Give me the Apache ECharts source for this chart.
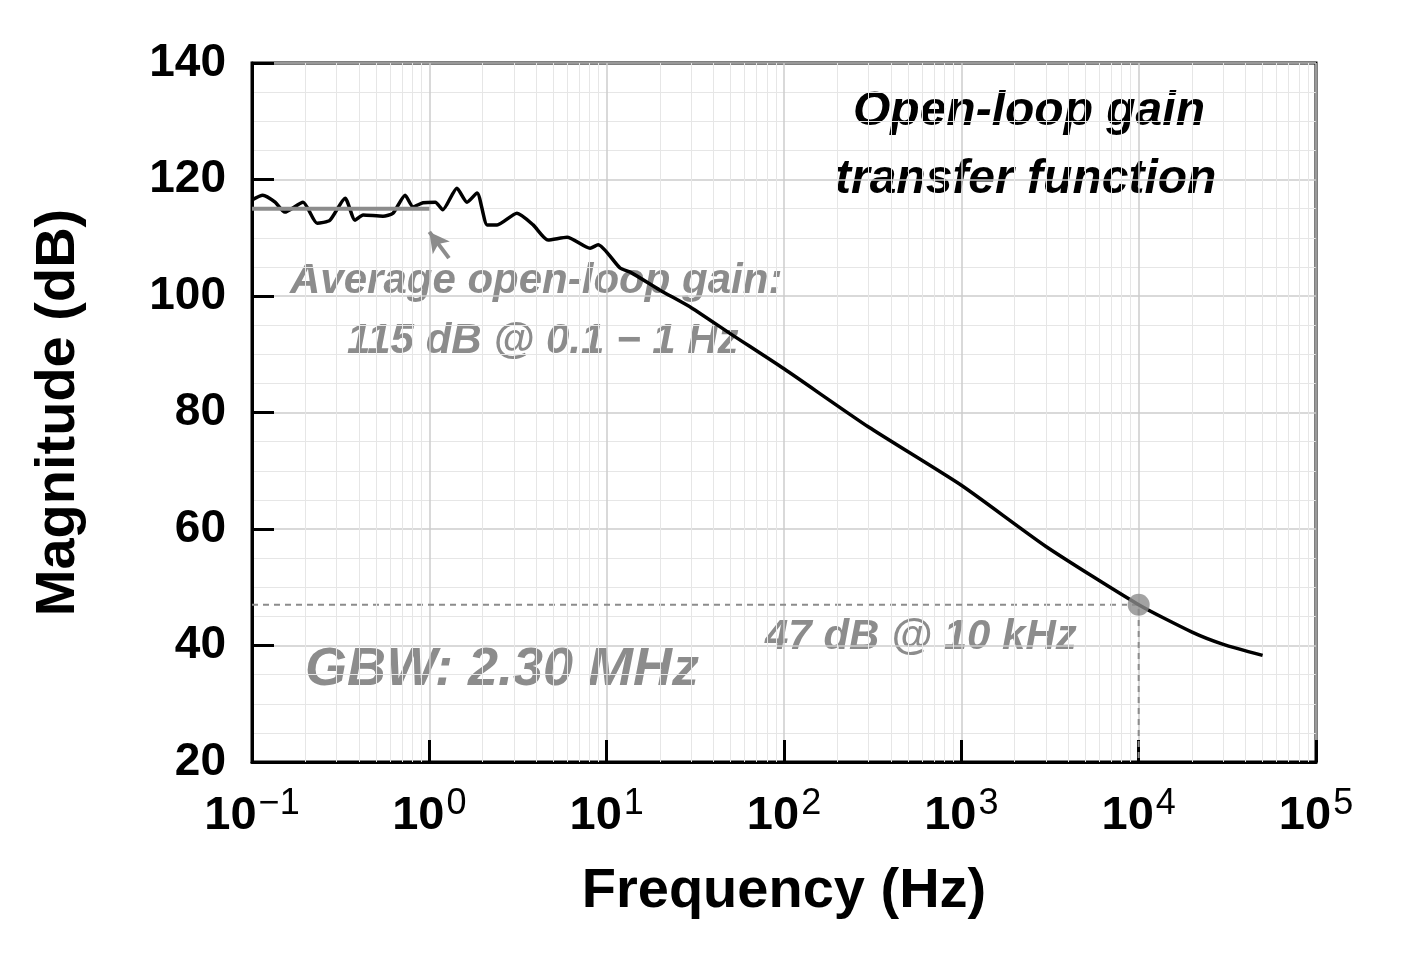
<!DOCTYPE html>
<html>
<head>
<meta charset="utf-8">
<script src="https://cdn.jsdelivr.net/npm/echarts@6/dist/echarts.min.js"></script>
<style>html,body{margin:0;background:#fff}#chart{width:1421px;height:966px}</style>
</head>
<body>
<div id="chart"></div>
<script>
// frequency (Hz) and magnitude (dB)
var freq = [0.1, 0.115, 0.135, 0.153, 0.194, 0.233, 0.275, 0.335, 0.381, 0.423, 0.548, 0.624, 0.73, 0.809, 0.921,
  1.08, 1.19, 1.43, 1.63, 1.86, 2.12, 2.41, 3.12, 3.85, 4.67, 5.98, 8.06, 8.95, 11.9, 13.6,
  20, 30, 50, 100, 300, 1000, 3000, 10000, 20000, 30000, 50000];
var mag = [116.5, 117.3, 116.1, 114.4, 116.1, 112.5, 113.0, 116.8, 113.0, 113.9, 113.7, 114.2, 117.3, 115.3, 116.0,
  116.1, 114.8, 118.5, 116.1, 117.7, 112.2, 112.2, 114.2, 112.2, 109.6, 110.1, 108.2, 108.8, 104.8, 104.1,
  101, 98, 93.5, 87.5, 77.5, 67.5, 57, 47, 42.3, 40.2, 38.3];
var avgGain = 115, avgRange = [0.1, 1];
var gbwPoint = [10000, 47];
var yTicks = [20, 140];

var chart = echarts.init(document.getElementById('chart'));

// minor vertical grid lines at 2..9 x 10^n
var minorX = [];
for (var e = -1; e < 5; e++) for (var k = 2; k <= 9; k++) minorX.push({xAxis: k * Math.pow(10, e)});

var supMap = {'-1': '−1', '0': '0', '1': '1', '2': '2', '3': '3', '4': '4', '5': '5'};

chart.setOption({
  animation: false,
  grid: {left: 252, right: 105, top: 63, bottom: 204, show: true, borderColor: '#000', borderWidth: 3},
  xAxis: {
    type: 'log', logBase: 10, min: 0.1, max: 100000,
    axisLine: {lineStyle: {color: '#000', width: 3}},
    axisTick: {inside: true, length: 22, lineStyle: {color: '#000', width: 3}},
    splitLine: {show: true, lineStyle: {color: '#ccc', width: 1.5}},
    axisLabel: {
      margin: 24,
      formatter: function (v) {
        var n = Math.round(Math.log10(v));
        return '{b|10}{s|' + supMap[n] + '}';
      },
      rich: {
        b: {fontFamily: 'Liberation Sans', fontWeight: 'bold', fontSize: 47, color: '#000'},
        s: {fontFamily: 'Liberation Sans', fontSize: 36, color: '#000', verticalAlign: 'top', padding: [0, 0, 24, 2]}
      }
    },
    name: 'Frequency (Hz)', nameLocation: 'middle', nameGap: 102,
    nameTextStyle: {fontFamily: 'Liberation Sans', fontWeight: 'bold', fontSize: 56, color: '#000'}
  },
  yAxis: {
    type: 'value', min: yTicks[0], max: yTicks[1], interval: 20,
    axisLine: {lineStyle: {color: '#000', width: 3}},
    axisTick: {inside: true, length: 22, lineStyle: {color: '#000', width: 3}},
    splitLine: {show: true, lineStyle: {color: '#ccc', width: 1.5}},
    minorTick: {show: false, splitNumber: 4},
    minorSplitLine: {show: true, lineStyle: {color: '#e6e6e6', width: 1}},
    axisLabel: {margin: 26, fontFamily: 'Liberation Sans', fontWeight: 'bold', fontSize: 46, color: '#000'},
    name: 'Magnitude (dB)', nameLocation: 'middle', nameGap: 165,
    nameTextStyle: {fontFamily: 'Liberation Sans', fontWeight: 'bold', fontSize: 56, color: '#000'}
  },
  series: [
    {
      type: 'line', data: freq.map(function (f, i) { return [f, mag[i]]; }),
      showSymbol: false, smooth: 0.2, lineStyle: {color: '#000', width: 3.5}, z: 5,
      markLine: {
        silent: true, symbol: 'none', label: {show: false},
        lineStyle: {color: '#e6e6e6', width: 1, type: 'solid'},
        data: minorX
      }
    },
    {
      type: 'line', data: [[avgRange[0], avgGain], [avgRange[1], avgGain]],
      showSymbol: false, lineStyle: {color: '#8c8c8c', width: 4}, z: 6
    },
    {
      type: 'line', data: [[0.1, gbwPoint[1]], gbwPoint, [gbwPoint[0], 20]],
      showSymbol: false, lineStyle: {color: '#8c8c8c', width: 2, type: [6, 5]}, z: 4
    },
    {
      type: 'scatter', data: [gbwPoint], symbolSize: 22, itemStyle: {color: '#8c8c8c'}, z: 7
    },
    {
      type: 'line', data: [],
      markLine: {
        silent: true, symbol: ['none', 'arrow'], symbolSize: [16, 20], label: {show: false},
        lineStyle: {color: '#8c8c8c', width: 4, type: 'solid'},
        data: [[{coord: [1.29, 106.5]}, {coord: [1.0, 111]}]]
      }
    }
  ],
  graphic: [
    {type: 'text', left: 853, top: 88, style: {text: 'Open-loop gain', font: 'italic bold 48px "Liberation Sans"', fill: '#000'}},
    {type: 'text', left: 835, top: 156, style: {text: 'transfer function', font: 'italic bold 48px "Liberation Sans"', fill: '#000'}},
    {type: 'text', left: 290, top: 260, style: {text: 'Average open-loop gain:', font: 'italic bold 42px "Liberation Sans"', fill: '#8c8c8c'}},
    {type: 'text', left: 347, top: 320, style: {text: '115 dB @ 0.1 − 1 Hz', font: 'italic bold 42px "Liberation Sans"', fill: '#8c8c8c'}},
    {type: 'text', left: 765, top: 616, style: {text: '47 dB @ 10 kHz', font: 'italic bold 42px "Liberation Sans"', fill: '#8c8c8c'}},
    {type: 'text', left: 305, top: 643, style: {text: 'GBW: 2.30 MHz', font: 'italic bold 54px "Liberation Sans"', fill: '#8c8c8c'}}
  ]
});
</script>
</body>
</html>
